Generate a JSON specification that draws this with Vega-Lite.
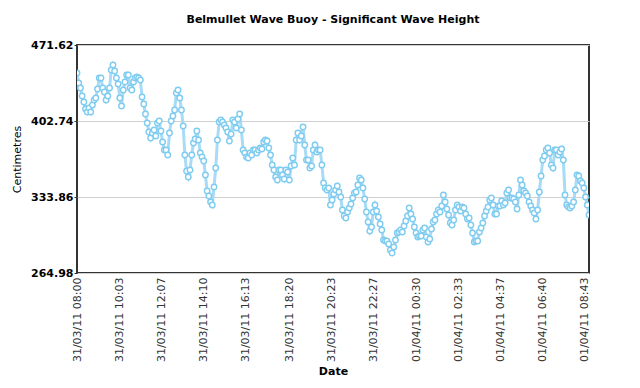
{
  "$schema": "https://vega.github.io/schema/vega-lite/v6.json",
  "autosize": {"type": "none"},
  "width": 512,
  "height": 228,
  "padding": {"left": 77, "top": 45, "right": 51, "bottom": 115},
  "title": {"text": "Belmullet Wave Buoy - Significant Wave Height", "font": "DejaVu Sans", "fontSize": 11, "fontWeight": "bold", "color": "#000", "anchor": "middle", "offset": 14},
  "datasets": {
    "buoy": [
      {"t":"2011-03-31T08:00","v":446.2},{"t":"2011-03-31T08:05","v":437.2},{"t":"2011-03-31T08:10","v":432.6},{"t":"2011-03-31T08:15","v":425.4},{"t":"2011-03-31T08:20","v":420.0},{"t":"2011-03-31T08:25","v":413.6},{"t":"2011-03-31T08:30","v":410.9},{"t":"2011-03-31T08:35","v":414.5},{"t":"2011-03-31T08:40","v":410.9},{"t":"2011-03-31T08:45","v":417.2},{"t":"2011-03-31T08:50","v":421.8},{"t":"2011-03-31T08:55","v":423.6},
      {"t":"2011-03-31T09:00","v":431.7},{"t":"2011-03-31T09:05","v":441.7},{"t":"2011-03-31T09:10","v":441.7},{"t":"2011-03-31T09:15","v":432.6},{"t":"2011-03-31T09:20","v":429.0},{"t":"2011-03-31T09:25","v":421.8},{"t":"2011-03-31T09:30","v":425.4},{"t":"2011-03-31T09:35","v":432.6},{"t":"2011-03-31T09:40","v":449.0},{"t":"2011-03-31T09:45","v":453.5},{"t":"2011-03-31T09:50","v":448.0},{"t":"2011-03-31T09:55","v":441.7},
      {"t":"2011-03-31T10:00","v":436.3},{"t":"2011-03-31T10:05","v":423.6},{"t":"2011-03-31T10:10","v":416.3},{"t":"2011-03-31T10:15","v":430.8},{"t":"2011-03-31T10:20","v":438.1},{"t":"2011-03-31T10:25","v":444.4},{"t":"2011-03-31T10:30","v":444.4},{"t":"2011-03-31T10:35","v":432.6},{"t":"2011-03-31T10:40","v":430.8},{"t":"2011-03-31T10:45","v":438.1},{"t":"2011-03-31T10:50","v":441.7},{"t":"2011-03-31T10:55","v":442.6},
      {"t":"2011-03-31T11:00","v":441.7},{"t":"2011-03-31T11:05","v":439.9},{"t":"2011-03-31T11:10","v":424.5},{"t":"2011-03-31T11:15","v":418.1},{"t":"2011-03-31T11:20","v":409.1},{"t":"2011-03-31T11:25","v":400.9},{"t":"2011-03-31T11:30","v":392.8},{"t":"2011-03-31T11:35","v":387.3},{"t":"2011-03-31T11:40","v":391.9},{"t":"2011-03-31T11:45","v":394.6},{"t":"2011-03-31T11:50","v":389.1},{"t":"2011-03-31T11:55","v":400.9},
      {"t":"2011-03-31T12:00","v":402.7},{"t":"2011-03-31T12:05","v":393.7},{"t":"2011-03-31T12:10","v":383.7},{"t":"2011-03-31T12:15","v":376.5},{"t":"2011-03-31T12:20","v":376.5},{"t":"2011-03-31T12:25","v":371.9},{"t":"2011-03-31T12:30","v":391.9},{"t":"2011-03-31T12:35","v":402.7},{"t":"2011-03-31T12:40","v":407.3},{"t":"2011-03-31T12:45","v":412.7},{"t":"2011-03-31T12:50","v":428.1},{"t":"2011-03-31T12:55","v":430.8},
      {"t":"2011-03-31T13:00","v":423.6},{"t":"2011-03-31T13:05","v":412.7},{"t":"2011-03-31T13:10","v":398.2},{"t":"2011-03-31T13:15","v":371.9},{"t":"2011-03-31T13:20","v":357.4},{"t":"2011-03-31T13:25","v":352.0},{"t":"2011-03-31T13:30","v":358.3},{"t":"2011-03-31T13:35","v":371.9},{"t":"2011-03-31T13:40","v":382.8},{"t":"2011-03-31T13:45","v":386.4},{"t":"2011-03-31T13:50","v":393.7},{"t":"2011-03-31T13:55","v":385.5},
      {"t":"2011-03-31T14:00","v":373.7},{"t":"2011-03-31T14:05","v":370.1},{"t":"2011-03-31T14:10","v":366.5},{"t":"2011-03-31T14:15","v":353.8},{"t":"2011-03-31T14:20","v":339.3},{"t":"2011-03-31T14:25","v":334.8},{"t":"2011-03-31T14:30","v":329.3},{"t":"2011-03-31T14:35","v":326.6},{"t":"2011-03-31T14:40","v":342.9},{"t":"2011-03-31T14:45","v":360.1},{"t":"2011-03-31T14:50","v":385.5},{"t":"2011-03-31T14:55","v":401.8},
      {"t":"2011-03-31T15:00","v":403.6},{"t":"2011-03-31T15:05","v":401.8},{"t":"2011-03-31T15:10","v":399.1},{"t":"2011-03-31T15:15","v":396.4},{"t":"2011-03-31T15:20","v":392.8},{"t":"2011-03-31T15:25","v":384.6},{"t":"2011-03-31T15:30","v":391.0},{"t":"2011-03-31T15:35","v":403.6},{"t":"2011-03-31T15:40","v":401.8},{"t":"2011-03-31T15:45","v":396.4},{"t":"2011-03-31T15:50","v":404.6},{"t":"2011-03-31T15:55","v":409.1},
      {"t":"2011-03-31T16:00","v":394.6},{"t":"2011-03-31T16:05","v":376.5},{"t":"2011-03-31T16:10","v":373.7},{"t":"2011-03-31T16:15","v":370.1},{"t":"2011-03-31T16:20","v":369.2},{"t":"2011-03-31T16:25","v":373.7},{"t":"2011-03-31T16:30","v":371.9},{"t":"2011-03-31T16:35","v":376.5},{"t":"2011-03-31T16:40","v":376.5},{"t":"2011-03-31T16:45","v":373.7},{"t":"2011-03-31T16:50","v":376.5},{"t":"2011-03-31T16:55","v":378.3},
      {"t":"2011-03-31T17:00","v":377.4},{"t":"2011-03-31T17:05","v":383.7},{"t":"2011-03-31T17:10","v":385.5},{"t":"2011-03-31T17:15","v":384.6},{"t":"2011-03-31T17:20","v":378.3},{"t":"2011-03-31T17:25","v":371.9},{"t":"2011-03-31T17:30","v":362.9},{"t":"2011-03-31T17:35","v":358.3},{"t":"2011-03-31T17:40","v":352.0},{"t":"2011-03-31T17:45","v":349.3},{"t":"2011-03-31T17:50","v":358.3},{"t":"2011-03-31T17:55","v":358.3},
      {"t":"2011-03-31T18:00","v":353.8},{"t":"2011-03-31T18:05","v":350.2},{"t":"2011-03-31T18:10","v":358.3},{"t":"2011-03-31T18:15","v":356.5},{"t":"2011-03-31T18:20","v":349.3},{"t":"2011-03-31T18:25","v":362.0},{"t":"2011-03-31T18:30","v":369.2},{"t":"2011-03-31T18:35","v":362.9},{"t":"2011-03-31T18:40","v":385.5},{"t":"2011-03-31T18:45","v":391.9},{"t":"2011-03-31T18:50","v":385.5},{"t":"2011-03-31T18:55","v":389.1},
      {"t":"2011-03-31T19:00","v":397.3},{"t":"2011-03-31T19:05","v":381.0},{"t":"2011-03-31T19:10","v":367.4},{"t":"2011-03-31T19:15","v":367.4},{"t":"2011-03-31T19:20","v":360.1},{"t":"2011-03-31T19:25","v":362.0},{"t":"2011-03-31T19:30","v":376.5},{"t":"2011-03-31T19:35","v":381.0},{"t":"2011-03-31T19:40","v":374.6},{"t":"2011-03-31T19:45","v":376.5},{"t":"2011-03-31T19:50","v":376.5},{"t":"2011-03-31T19:55","v":362.9},
      {"t":"2011-03-31T20:00","v":346.5},{"t":"2011-03-31T20:05","v":342.0},{"t":"2011-03-31T20:10","v":340.2},{"t":"2011-03-31T20:15","v":342.0},{"t":"2011-03-31T20:20","v":326.6},{"t":"2011-03-31T20:25","v":331.1},{"t":"2011-03-31T20:30","v":336.6},{"t":"2011-03-31T20:35","v":340.2},{"t":"2011-03-31T20:40","v":343.8},{"t":"2011-03-31T20:45","v":338.4},{"t":"2011-03-31T20:50","v":333.9},{"t":"2011-03-31T20:55","v":322.1},
      {"t":"2011-03-31T21:00","v":316.6},{"t":"2011-03-31T21:05","v":314.8},{"t":"2011-03-31T21:10","v":320.3},{"t":"2011-03-31T21:15","v":323.9},{"t":"2011-03-31T21:20","v":327.5},{"t":"2011-03-31T21:25","v":333.0},{"t":"2011-03-31T21:30","v":337.5},{"t":"2011-03-31T21:35","v":338.4},{"t":"2011-03-31T21:40","v":344.7},{"t":"2011-03-31T21:45","v":351.1},{"t":"2011-03-31T21:50","v":349.3},{"t":"2011-03-31T21:55","v":342.0},
      {"t":"2011-03-31T22:00","v":332.0},{"t":"2011-03-31T22:05","v":320.3},{"t":"2011-03-31T22:10","v":311.2},{"t":"2011-03-31T22:15","v":303.0},{"t":"2011-03-31T22:20","v":306.7},{"t":"2011-03-31T22:25","v":320.3},{"t":"2011-03-31T22:30","v":326.6},{"t":"2011-03-31T22:35","v":321.2},{"t":"2011-03-31T22:40","v":315.7},{"t":"2011-03-31T22:45","v":309.4},{"t":"2011-03-31T22:50","v":304.0},{"t":"2011-03-31T22:55","v":294.9},
      {"t":"2011-03-31T23:00","v":294.0},{"t":"2011-03-31T23:05","v":294.0},{"t":"2011-03-31T23:10","v":291.3},{"t":"2011-03-31T23:15","v":285.8},{"t":"2011-03-31T23:20","v":283.1},{"t":"2011-03-31T23:25","v":288.5},{"t":"2011-03-31T23:30","v":294.9},{"t":"2011-03-31T23:35","v":301.2},{"t":"2011-03-31T23:40","v":302.1},{"t":"2011-03-31T23:45","v":304.0},{"t":"2011-03-31T23:50","v":302.1},{"t":"2011-03-31T23:55","v":307.6},
      {"t":"2011-04-01T00:00","v":312.1},{"t":"2011-04-01T00:05","v":316.6},{"t":"2011-04-01T00:10","v":323.9},{"t":"2011-04-01T00:15","v":318.5},{"t":"2011-04-01T00:20","v":313.9},{"t":"2011-04-01T00:25","v":306.7},{"t":"2011-04-01T00:30","v":301.2},{"t":"2011-04-01T00:35","v":297.6},{"t":"2011-04-01T00:40","v":298.5},{"t":"2011-04-01T00:45","v":298.5},{"t":"2011-04-01T00:50","v":304.0},{"t":"2011-04-01T00:55","v":305.8},
      {"t":"2011-04-01T01:00","v":297.6},{"t":"2011-04-01T01:05","v":293.1},{"t":"2011-04-01T01:10","v":295.8},{"t":"2011-04-01T01:15","v":304.9},{"t":"2011-04-01T01:20","v":311.2},{"t":"2011-04-01T01:25","v":313.0},{"t":"2011-04-01T01:30","v":318.5},{"t":"2011-04-01T01:35","v":322.1},{"t":"2011-04-01T01:40","v":320.3},{"t":"2011-04-01T01:45","v":325.7},{"t":"2011-04-01T01:50","v":335.7},{"t":"2011-04-01T01:55","v":329.3},
      {"t":"2011-04-01T02:00","v":323.0},{"t":"2011-04-01T02:05","v":317.5},{"t":"2011-04-01T02:10","v":310.3},{"t":"2011-04-01T02:15","v":308.5},{"t":"2011-04-01T02:20","v":313.0},{"t":"2011-04-01T02:25","v":322.1},{"t":"2011-04-01T02:30","v":326.6},{"t":"2011-04-01T02:35","v":324.8},{"t":"2011-04-01T02:40","v":321.2},{"t":"2011-04-01T02:45","v":324.8},{"t":"2011-04-01T02:50","v":323.9},{"t":"2011-04-01T02:55","v":318.5},
      {"t":"2011-04-01T03:00","v":313.9},{"t":"2011-04-01T03:05","v":314.8},{"t":"2011-04-01T03:10","v":308.5},{"t":"2011-04-01T03:15","v":301.2},{"t":"2011-04-01T03:20","v":293.1},{"t":"2011-04-01T03:25","v":294.0},{"t":"2011-04-01T03:30","v":294.0},{"t":"2011-04-01T03:35","v":302.1},{"t":"2011-04-01T03:40","v":305.8},{"t":"2011-04-01T03:45","v":310.3},{"t":"2011-04-01T03:50","v":316.6},{"t":"2011-04-01T03:55","v":321.2},
      {"t":"2011-04-01T04:00","v":324.8},{"t":"2011-04-01T04:05","v":331.1},{"t":"2011-04-01T04:10","v":333.0},{"t":"2011-04-01T04:15","v":326.6},{"t":"2011-04-01T04:20","v":318.5},{"t":"2011-04-01T04:25","v":318.5},{"t":"2011-04-01T04:30","v":325.7},{"t":"2011-04-01T04:35","v":325.7},{"t":"2011-04-01T04:40","v":330.2},{"t":"2011-04-01T04:45","v":326.6},{"t":"2011-04-01T04:50","v":328.4},{"t":"2011-04-01T04:55","v":337.5},
      {"t":"2011-04-01T05:00","v":340.2},{"t":"2011-04-01T05:05","v":333.0},{"t":"2011-04-01T05:10","v":333.0},{"t":"2011-04-01T05:15","v":332.0},{"t":"2011-04-01T05:20","v":329.3},{"t":"2011-04-01T05:25","v":323.0},{"t":"2011-04-01T05:30","v":335.7},{"t":"2011-04-01T05:35","v":349.3},{"t":"2011-04-01T05:40","v":344.7},{"t":"2011-04-01T05:45","v":339.3},{"t":"2011-04-01T05:50","v":337.5},{"t":"2011-04-01T05:55","v":334.8},
      {"t":"2011-04-01T06:00","v":329.3},{"t":"2011-04-01T06:05","v":325.7},{"t":"2011-04-01T06:10","v":322.1},{"t":"2011-04-01T06:15","v":319.4},{"t":"2011-04-01T06:20","v":313.9},{"t":"2011-04-01T06:25","v":322.1},{"t":"2011-04-01T06:30","v":338.4},{"t":"2011-04-01T06:35","v":352.9},{"t":"2011-04-01T06:40","v":367.4},{"t":"2011-04-01T06:45","v":371.0},{"t":"2011-04-01T06:50","v":376.5},{"t":"2011-04-01T06:55","v":378.3},
      {"t":"2011-04-01T07:00","v":373.7},{"t":"2011-04-01T07:05","v":362.9},{"t":"2011-04-01T07:10","v":360.1},{"t":"2011-04-01T07:15","v":376.5},{"t":"2011-04-01T07:20","v":376.5},{"t":"2011-04-01T07:25","v":371.9},{"t":"2011-04-01T07:30","v":374.6},{"t":"2011-04-01T07:35","v":377.4},{"t":"2011-04-01T07:40","v":367.4},{"t":"2011-04-01T07:45","v":335.7},{"t":"2011-04-01T07:50","v":326.6},{"t":"2011-04-01T07:55","v":324.8},
      {"t":"2011-04-01T08:00","v":323.9},{"t":"2011-04-01T08:05","v":325.7},{"t":"2011-04-01T08:10","v":329.3},{"t":"2011-04-01T08:15","v":340.2},{"t":"2011-04-01T08:20","v":353.8},{"t":"2011-04-01T08:25","v":352.9},{"t":"2011-04-01T08:30","v":348.4},{"t":"2011-04-01T08:35","v":346.5},{"t":"2011-04-01T08:40","v":342.0},{"t":"2011-04-01T08:45","v":333.9},{"t":"2011-04-01T08:50","v":326.6},{"t":"2011-04-01T08:55","v":317.5}
    ]
  },
  "data": {"name": "buoy"},
  "encoding": {
    "x": {
      "field": "t", "type": "temporal", "title": "Date",
      "scale": {"domain": [{"year": 2011, "month": 3, "date": 31, "hours": 8, "minutes": 0}, {"year": 2011, "month": 4, "date": 1, "hours": 8, "minutes": 55}]},
      "axis": {
        "values": [
          {"year": 2011, "month": 3, "date": 31, "hours": 8, "minutes": 0},
          {"year": 2011, "month": 3, "date": 31, "hours": 10, "minutes": 3},
          {"year": 2011, "month": 3, "date": 31, "hours": 12, "minutes": 7},
          {"year": 2011, "month": 3, "date": 31, "hours": 14, "minutes": 10},
          {"year": 2011, "month": 3, "date": 31, "hours": 16, "minutes": 13},
          {"year": 2011, "month": 3, "date": 31, "hours": 18, "minutes": 20},
          {"year": 2011, "month": 3, "date": 31, "hours": 20, "minutes": 23},
          {"year": 2011, "month": 3, "date": 31, "hours": 22, "minutes": 27},
          {"year": 2011, "month": 4, "date": 1, "hours": 0, "minutes": 30},
          {"year": 2011, "month": 4, "date": 1, "hours": 2, "minutes": 33},
          {"year": 2011, "month": 4, "date": 1, "hours": 4, "minutes": 37},
          {"year": 2011, "month": 4, "date": 1, "hours": 6, "minutes": 40},
          {"year": 2011, "month": 4, "date": 1, "hours": 8, "minutes": 43}
        ],
        "format": "%d/%m/%y %H:%M",
        "labelAngle": 270,
        "labelFont": "DejaVu Sans", "labelFontSize": 11, "labelColor": "#333",
        "labelPadding": 4, "labelOverlap": false, "labelFlush": false, "labelBound": false,
        "ticks": false, "domain": false, "grid": false,
        "titleFont": "DejaVu Sans", "titleFontSize": 11, "titleFontWeight": "bold", "titleColor": "#000", "titlePadding": 4
      }
    },
    "y": {
      "field": "v", "type": "quantitative", "title": "Centimetres",
      "scale": {"domain": [264.98, 471.62], "nice": false, "zero": false},
      "axis": {
        "values": [264.98, 333.86, 402.74, 471.62],
        "format": ".2f",
        "labelFont": "DejaVu Sans", "labelFontSize": 11, "labelFontWeight": "bold", "labelColor": "#000",
        "labelPadding": 1, "labelFlush": false, "labelOverlap": false,
        "ticks": true, "tickSize": 3, "tickColor": "#333", "domain": false,
        "grid": true, "gridColor": "#d0d0d0", "gridWidth": 1,
        "titleFont": "DejaVu Sans", "titleFontSize": 11, "titleFontWeight": "normal", "titleColor": "#000", "titlePadding": 8
      }
    }
  },
  "layer": [
    {"mark": {"type": "line", "color": "#a8dbf5", "strokeWidth": 3, "clip": true}},
    {"mark": {"type": "point", "shape": "circle", "filled": true, "fill": "#ffffff", "stroke": "#80ccf0", "strokeWidth": 1.4, "size": 30, "opacity": 1, "clip": true}}
  ],
  "config": {
    "background": "#ffffff",
    "view": {"stroke": "#333333", "strokeWidth": 2}
  }
}
